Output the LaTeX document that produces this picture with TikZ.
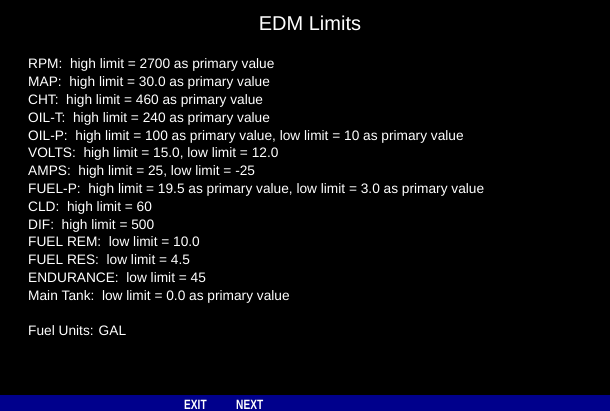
\documentclass[tikz,border=0pt]{standalone}
\usepackage{graphicx}
\usepackage{fontspec}
\setmainfont{Liberation Sans}
\usetikzlibrary{positioning}

\definecolor{edmblue}{RGB}{0,0,140}

\tikzset{
    limitline/.style={text=white, anchor=base west, inner sep=0pt, font=\fontsize{13.7}{16}\selectfont},
    heading/.style={text=white, anchor=base, inner sep=0pt, font=\fontsize{20}{24}\selectfont},
    softkey/.style={text=white, anchor=base west, inner sep=0pt, font=\bfseries\fontsize{13.5}{16}\selectfont}
}

\begin{document}
\begin{tikzpicture}[x=1pt, y=-1pt]
            \useasboundingbox (0,0) rectangle (610,411);
            \fill[black] (0,0) rectangle (610,411);
            \fill[edmblue] (0,395) rectangle (610,411);
            \node[heading] (title) at (310,31) {EDM Limits};
            \foreach \txt [count=\i from 0] in {
                    {RPM:\ \ high limit = 2700 as primary value},
                    {MAP:\ \ high limit = 30.0 as primary value},
                    {CHT:\ \ high limit = 460 as primary value},
                    {OIL-T:\ \ high limit = 240 as primary value},
                    {OIL-P:\ \ high limit = 100 as primary value, low limit = 10 as primary value},
                    {VOLTS:\ \ high limit = 15.0, low limit = 12.0},
                    {AMPS:\ \ high limit = 25, low limit = -25},
                    {FUEL-P:\ \ high limit = 19.5 as primary value, low limit = 3.0 as primary value},
                    {CLD:\ \ high limit = 60},
                    {DIF:\ \ high limit = 500},
                    {FUEL REM:\ \ low limit = 10.0},
                    {FUEL RES:\ \ low limit = 4.5},
                    {ENDURANCE:\ \ low limit = 45},
                    {Main Tank:\ \ low limit = 0.0 as primary value}} {
                \node[limitline] (line\i) at (28, {69 + 17.8 * \i}) {\txt};
            }
            \node[limitline] (units) at (28, {69 + 17.8 * 15}) {Fuel Units: GAL};
            \node[softkey] (exit) at (184,409) {\scalebox{0.75}[1]{EXIT}};
            \node[softkey] (next) at (236,409) {\scalebox{0.75}[1]{NEXT}};
        \end{tikzpicture}
\end{document}
